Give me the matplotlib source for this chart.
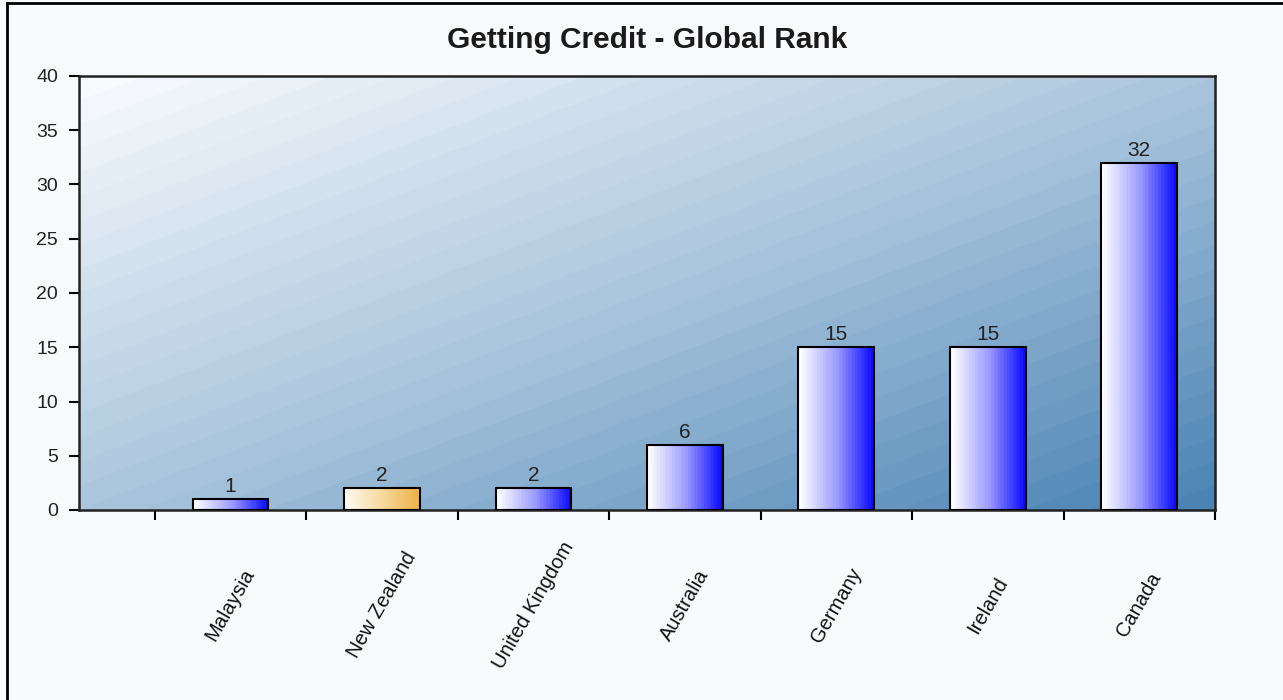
import numpy as np
import matplotlib
matplotlib.use("Agg")
import matplotlib.pyplot as plt
from matplotlib.colors import LinearSegmentedColormap

categories = ["Malaysia", "New Zealand", "United Kingdom", "Australia", "Germany", "Ireland", "Canada"]
ranks = [1, 2, 2, 6, 15, 15, 32]
highlight = "New Zealand"
title = "Getting Credit - Global Rank"
yticks = [0, 5, 10, 15, 20, 25, 30, 35, 40]

plt.rcParams['font.family'] = ['Liberation Sans', 'DejaVu Sans']

W, H = 1283, 700
fig = plt.figure(figsize=(W / 100, H / 100), dpi=100, facecolor="#f9fafc")
L, R, T, B = 79, 1215, 76, 510
ax = fig.add_axes([L / W, 1 - B / H, (R - L) / W, (B - T) / H])
ax.set_facecolor("#f9fafc")

# background gradient of plot area (diagonal with banding)
nx, ny = R - L, B - T
xx, yy = np.meshgrid(np.linspace(0, 1, nx), np.linspace(0, 1, ny))
t = (xx + yy) / 2
t = np.floor(t * 36) / 36
bg_cmap = LinearSegmentedColormap.from_list("bg", ["#f8fafd", "#a8c4dc", "#4580b2"])
ax.imshow(t, cmap=bg_cmap, extent=(-1, 6.5, 0, 40), origin="upper", aspect="auto",
          zorder=0, interpolation="nearest")

x = np.arange(len(categories))
bars = ax.bar(x, ranks, width=0.5, facecolor="none", edgecolor="black", linewidth=1.5, zorder=3)

blue_cmap = LinearSegmentedColormap.from_list("bl", ["#ffffff", "#9a9aff", "#0000ff"])
org_cmap = LinearSegmentedColormap.from_list("or", ["#fffaf0", "#f6d89a", "#eeb040"])
grad = np.floor(np.linspace(0, 1, 256) * 24) / 24
grad = np.vstack([grad, grad])
for cat, b in zip(categories, bars):
    cm = org_cmap if cat == highlight else blue_cmap
    x0, w, h = b.get_x(), b.get_width(), b.get_height()
    ax.imshow(grad, cmap=cm, extent=(x0, x0 + w, 0, h), aspect="auto", zorder=2,
              interpolation="bilinear")
    ax.text(x0 + w / 2, h + 0.3, str(int(h)), ha="center", va="bottom",
            fontsize=15, color="#222222", zorder=4)

ax.set_xlim(-1, 6.5)
ax.set_ylim(0, 40)
ax.set_yticks(yticks)
ax.set_yticklabels([str(v) for v in yticks], fontsize=14, color="#222222")
ax.set_xticks(np.arange(-0.5, 7, 1))
ax.set_xticklabels([])
ax.tick_params(axis="y", length=7, width=1.5, pad=8)
ax.tick_params(axis="x", length=7, width=1.5, direction="out")
for s in ax.spines.values():
    s.set_linewidth(1.8)
    s.set_color("#222222")

for i, cat in enumerate(categories):
    ax.text(i, -0.219, cat, transform=ax.get_xaxis_transform(), rotation=60,
            ha="center", va="center", fontsize=14.5, color="#111111")

fig.text((L + R) / 2 / W, 1 - 48 / H, title, ha="center", va="baseline",
         fontsize=21.5, fontweight="bold", color="#1a1a1a")

# outer border
fig.add_artist(plt.Line2D([7 / W, 7 / W], [0, 1 - 3 / H], transform=fig.transFigure,
                          color="black", linewidth=2))
fig.add_artist(plt.Line2D([7 / W, 1], [1 - 3 / H, 1 - 3 / H], transform=fig.transFigure,
                          color="black", linewidth=2))

fig.savefig("out.png", dpi=100, facecolor=fig.get_facecolor())
